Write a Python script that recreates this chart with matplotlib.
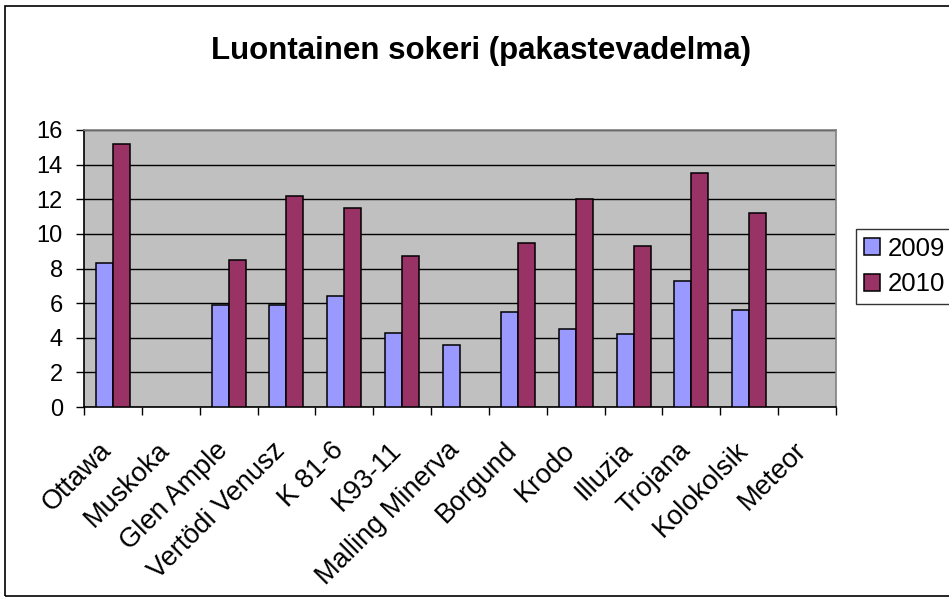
import matplotlib
matplotlib.use("Agg")
import matplotlib.pyplot as plt
import numpy as np
from matplotlib.patches import Rectangle

plt.rcParams['font.family'] = ['Liberation Sans', 'DejaVu Sans']

categories = ["Ottawa", "Muskoka", "Glen Ample", "Vertödi Venusz", "K 81-6", "K93-11",
              "Malling Minerva", "Borgund", "Krodo", "Illuzia", "Trojana", "Kolokolsik", "Meteor"]
sugar_2009 = [8.3, np.nan, 5.9, 5.9, 6.4, 4.3, 3.6, 5.5, 4.5, 4.2, 7.3, 5.6, np.nan]
sugar_2010 = [15.2, np.nan, 8.5, 12.2, 11.5, 8.7, np.nan, 9.5, 12.0, 9.3, 13.5, 11.2, np.nan]
series_labels = ["2009", "2010"]
y_ticks = [0, 2, 4, 6, 8, 10, 12, 14, 16]

W, H = 949, 600
fig = plt.figure(figsize=(W / 100, H / 100), dpi=100)
fig.patch.set_facecolor("white")

# outer chart border (runs past the right edge)
fig.add_artist(Rectangle((5 / W, 1 - 596 / H), 960 / W, 590 / H,
                         transform=fig.transFigure, fill=False, edgecolor="black",
                         lw=1.2, clip_on=False))

left, right, top, bottom = 84, 836, 130, 407
ax = fig.add_axes([left / W, 1 - bottom / H, (right - left) / W, (bottom - top) / H])
ax.set_facecolor("#C0C0C0")

x = np.arange(len(categories))
bw = 0.294
ax.bar(x - bw / 2, sugar_2009, bw, color="#9999FF", edgecolor="black", lw=1.1,
       label=series_labels[0], zorder=3)
ax.bar(x + bw / 2, sugar_2010, bw, color="#993366", edgecolor="black", lw=1.1,
       label=series_labels[1], zorder=3)

ax.set_xlim(-0.5, len(categories) - 0.5)
ax.set_ylim(0, 16)
ax.set_yticks(y_ticks)
ax.set_yticklabels([str(v) for v in y_ticks], fontsize=17)
ax.yaxis.grid(True, color="black", lw=1, zorder=1)
ax.set_axisbelow(True)

# category ticks sit on the boundaries, labels at the centres
ax.set_xticks(np.arange(len(categories) + 1) - 0.5)
ax.set_xticklabels([])
ax.set_xticks(x, minor=True)
ax.set_xticklabels(categories, minor=True, rotation=45, ha="right", va="baseline",
                   rotation_mode="anchor", fontsize=19.5)
ax.tick_params(axis="x", which="minor", length=0, pad=32)
ax.tick_params(axis="x", which="major", length=5.5, width=1, color="black", direction="out")
ax.tick_params(axis="y", length=5.8, width=1, color="black", direction="out", pad=9.4)

for s in ("top", "right"):
    ax.spines[s].set_color("#808080")
    ax.spines[s].set_linewidth(1.2)
for s in ("left", "bottom"):
    ax.spines[s].set_color("black")
    ax.spines[s].set_linewidth(1.2)

fig.text(481 / W, 1 - 59 / H, "Luontainen sokeri (pakastevadelma)", ha="center", va="baseline",
         fontsize=22.5, fontweight="bold")

leg = fig.legend(loc="upper left", bbox_to_anchor=(856 / W, 1 - 229 / H), fontsize=18.5,
                 frameon=True, fancybox=False, edgecolor="black", handlelength=0.62,
                 handleheight=0.62, handletextpad=0.31, borderaxespad=0, borderpad=0.3,
                 labelspacing=0.45)
leg.get_frame().set_linewidth(1)

fig.savefig("out.png", dpi=100)
